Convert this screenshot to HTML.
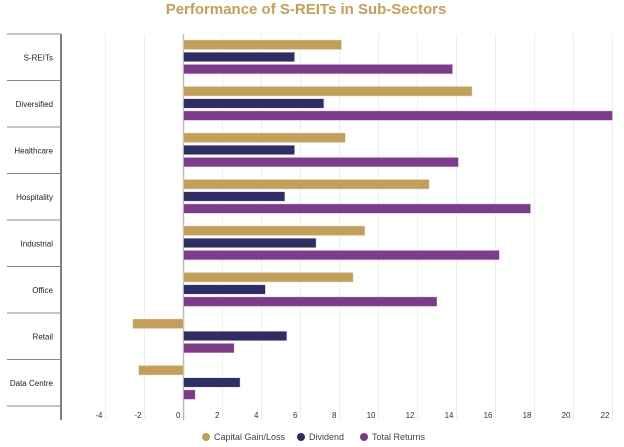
<!DOCTYPE html>
<html><head><meta charset="utf-8"><style>
body{margin:0;background:#fff;font-family:"Liberation Sans",sans-serif;}
svg{display:block}
</style></head><body>
<svg id="c" width="624" height="447">
<text x="306" y="14" text-anchor="middle" font-size="15" font-weight="bold" fill="#c49f58">Performance of S-REITs in Sub-Sectors</text>
<g id="grid"></g><g id="bars"></g><g id="axes"></g>
<g font-size="9" fill="#444">
<circle cx="206" cy="437" r="4" fill="#c49f58"/><text x="214" y="440">Capital Gain/Loss</text>
<circle cx="301" cy="437" r="4" fill="#2e2d66"/><text x="309" y="440">Dividend</text>
<circle cx="364" cy="437" r="4" fill="#7e3b8c"/><text x="372" y="440">Total Returns</text>
</g>
</svg>
<script>
const categories=["S-REITs","Diversified","Healthcare","Hospitality","Industrial","Office","Retail","Data Centre"];
const capitalGain=[8.1,14.8,8.3,12.6,9.3,8.7,-2.6,-2.3];
const dividend=[5.7,7.2,5.7,5.2,6.8,4.2,5.3,2.9];
const totalReturns=[13.8,22.0,14.1,17.8,16.2,13.0,2.6,0.6];
const ticks=[-4,-2,0,2,4,6,8,10,12,14,16,18,20,22];
const NS="http://www.w3.org/2000/svg";
const x0=183.5,pxu=19.5,plotTop=34,band=46.5;
const X=v=>x0+v*pxu;
function mk(t,a,p){const e=document.createElementNS(NS,t);for(const k in a)e.setAttribute(k,a[k]);p.appendChild(e);return e;}
const grid=document.getElementById('grid'),bars=document.getElementById('bars'),axes=document.getElementById('axes');
ticks.forEach(t=>{
 const g=mk('line',{x1:X(t),x2:X(t),y1:34,y2:420,stroke:t===0?'#bbb':'#eee','stroke-width':t===0?1.5:1},grid);
 
 
 const l=mk('text',{x:X(t)-3,y:418,'text-anchor':'end','font-size':8,fill:'#333'},axes);
 l.textContent=t;
 
 
});
mk('line',{x1:61,x2:61,y1:34,y2:420,stroke:'#555','stroke-width':1.5},axes);
const series=[[capitalGain,'#c49f58','capital'],[dividend,'#2e2d66','dividend'],[totalReturns,'#7e3b8c','total']];
categories.forEach((c,i)=>{
 const by=plotTop+i*band;
 const s=mk('line',{x1:7,x2:61,y1:by,y2:by,stroke:'#888','stroke-width':1},axes);
 
 
 const l=mk('text',{x:53,y:by+band/2+3,'text-anchor':'end','font-size':8,fill:'#222'},axes);
 l.textContent=c;
 
 
 series.forEach((sr,j)=>{
  const v=sr[0][i];
  const r=mk('rect',{x:Math.min(X(0),X(v)),y:by+6+j*12.2,width:Math.abs(X(v)-X(0)),height:9.5,fill:sr[1],stroke:'#ddd','stroke-width':0.5},bars);
  
  
 });
});
const e=mk('line',{x1:7,x2:61,y1:plotTop+8*band,y2:plotTop+8*band,stroke:'#888'},axes);


</script>
</body></html>
